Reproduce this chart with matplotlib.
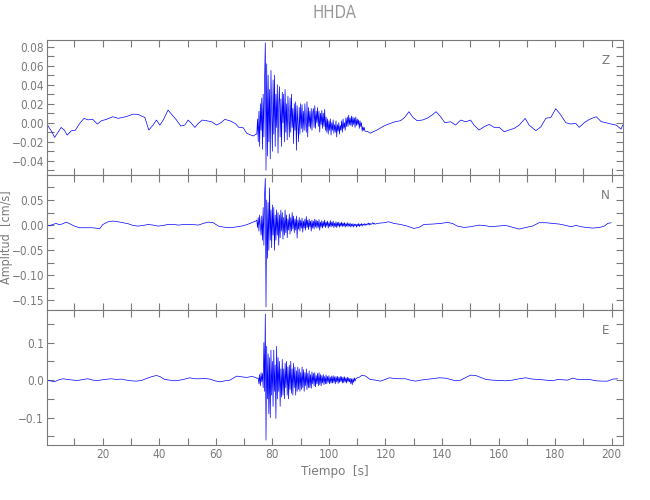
import numpy as np
import matplotlib
matplotlib.use("Agg")
import matplotlib.pyplot as plt
from matplotlib.ticker import MultipleLocator, FuncFormatter

plt.rcParams['font.family'] = ['DejaVu Sans']
plt.rcParams['font.stretch'] = 'condensed'

station = "HHDA"
channels = ["Z", "N", "E"]
dt_burst = 0.25

# Z component: quiet part before the arrival, burst (sampled every dt_burst), quiet part after
z_pre_t = [0, 0.8, 2.0, 3.0, 4.0, 5.3, 6.5, 7.4, 8.9, 10.3, 11.8, 13.4, 14.8, 16.5, 18.1, 19.5, 21.3,
           23.6, 25.4, 27.2, 28.9, 30.7, 32.5, 33.7, 34.9, 36.3, 37.8, 39.0, 40.2, 41.4, 43.1, 44.6,
           46.1, 47.6, 49.0, 50.2, 51.4, 52.6, 53.8, 55.2, 56.7, 58.5, 60.3, 61.8, 63.2, 65.0, 66.8,
           68.2, 69.7, 70.9, 72.1, 73.3, 74.1]
z_pre = [0.0, -0.004, -0.0095, -0.0154, -0.011, -0.005, -0.008, -0.013, -0.0085, -0.008, -0.001,
         0.0046, 0.003, 0.0035, -0.0014, 0.002, 0.0035, 0.0063, 0.0046, 0.0056, 0.007, 0.009, 0.0088,
         0.007, 0.0056, -0.0077, -0.0025, 0.0028, -0.0025, 0.0028, 0.0133, 0.008, 0.0028, -0.0035,
         -0.0025, 0.0028, -0.0007, -0.005, -0.0007, 0.0028, 0.0021, 0.001, -0.0025, 0.0, 0.0035,
         0.002, -0.0007, -0.005, -0.0053, -0.011, -0.0126, -0.014, -0.012]
z_burst_t0 = 74.5
z_burst = [-0.012, 0.004, -0.02, 0.012, -0.025, 0.02, -0.008, 0.026,
           -0.028, 0.03, -0.015, 0.045, 0.084, -0.05, 0.062, -0.035,
           0.05, -0.02, 0.035, -0.038, 0.055, 0.01, -0.03, 0.045,
           -0.012, 0.05, -0.025, 0.03, -0.005, 0.04, -0.032, 0.02,
           0.038, -0.015, 0.025, -0.025, 0.032, 0.0, 0.03, -0.02,
           0.035, -0.01, 0.02, -0.018, 0.028, 0.005, -0.015, 0.026,
           -0.01, 0.03, -0.005, 0.015, -0.022, 0.02, -0.008, 0.022,
           -0.029, 0.018, 0.0, -0.02, 0.016, -0.012, 0.02, -0.006,
           0.019, -0.01, 0.012, -0.008, 0.02, 0.0, -0.01, 0.022,
           -0.015, 0.016, -0.004, 0.012, -0.006, 0.015, -0.008, 0.01,
           0.015, -0.005, 0.018, -0.006, 0.012, 0.0, 0.016, -0.004,
           0.012, -0.01, 0.01, -0.002, 0.013, -0.006, 0.01, -0.004,
           0.014, -0.008, 0.006, -0.01, 0.004, -0.012, 0.002, -0.008,
           0.004, -0.013, 0.0, -0.008, 0.003, -0.011, -0.002, -0.01,
           0.002, -0.015, -0.002, -0.009, 0.0, -0.012, -0.003, -0.008,
           0.002, -0.01, 0.004, -0.006, 0.0, -0.008, 0.005, -0.004,
           0.006, -0.004, 0.008, -0.002, 0.005, -0.003, 0.007, -0.004,
           0.006, -0.002, 0.005, -0.005, 0.006, -0.003, 0.004, -0.002,
           0.003, -0.006, 0.002, -0.004, 0.0, -0.009, -0.004, -0.008,
           -0.005, -0.009]
z_post_t = [113.5, 114.6, 117.0, 119.4, 121.1, 123.5, 125.3, 126.8, 128.3, 129.7, 131.2, 133.0,
            134.7, 136.5, 137.9, 139.5, 141.0, 143.0, 144.8, 146.6, 148.4, 150.1, 151.3, 153.1,
            154.9, 156.7, 158.4, 160.2, 162.0, 163.7, 165.5, 167.3, 169.4, 170.8, 173.2, 175.0,
            176.7, 178.5, 180.2, 181.6, 183.8, 185.6, 187.3, 188.5, 190.3, 192.1, 194.5, 196.3,
            198.0, 199.8, 201.6, 203.3, 203.9]
z_post = [-0.009, -0.011, -0.0077, -0.0035, -0.0014, 0.0011, 0.0021, 0.0056, 0.0116, 0.0056,
          0.0021, 0.0028, 0.0046, 0.0081, 0.0116, 0.0063, 0.0, 0.001, -0.0025, 0.0028, 0.001,
          0.0028, -0.0025, -0.0077, -0.0042, -0.0018, -0.0049, -0.0049, -0.0095, -0.0077, -0.006,
          -0.0025, 0.0046, -0.0025, -0.0084, -0.0042, 0.0046, 0.0056, 0.0147, 0.0098, 0.0,
          -0.0014, -0.0007, -0.0049, 0.0, 0.0035, 0.0063, 0.0011, 0.0, -0.0014, -0.0025, -0.0067,
          -0.0025]

# N component
n_pre_t = [0, 1.2, 2.4, 3.5, 4.7, 5.9, 7.1, 8.3, 10.0, 11.8, 13.6, 16.0, 17.7, 18.9, 20.1, 21.9,
           23.6, 25.4, 27.2, 29.0, 30.7, 32.5, 34.3, 36.1, 37.8, 39.6, 41.4, 43.1, 44.9, 46.7, 49.0,
           51.4, 53.8, 55.6, 57.3, 59.1, 60.9, 62.7, 65.0, 66.8, 69.1, 70.9, 72.7, 74.1]
n_pre = [0.0, -0.0013, 0.0013, 0.0033, 0.0007, 0.0027, 0.006, 0.0027, -0.002, -0.0053, -0.0053,
         -0.0053, -0.006, -0.0073, 0.0013, 0.0066, 0.008, 0.0066, 0.0047, 0.0027, -0.0007, -0.002,
         -0.0007, 0.0013, 0.0, -0.002, -0.0007, 0.0013, 0.0013, 0.0, 0.0013, 0.0013, 0.0, 0.0033,
         0.006, 0.0047, -0.002, -0.004, -0.0053, -0.004, -0.002, 0.0007, 0.0047, 0.008]
n_burst_t0 = 74.5
n_burst = [0.01, -0.005, 0.015, -0.012, 0.02, 0.0, -0.02, 0.018,
           -0.03, 0.035, -0.04, 0.06, 0.093, -0.163, 0.05, -0.066,
           0.045, -0.05, 0.074, -0.03, 0.03, -0.045, 0.04, -0.02,
           0.035, -0.05, 0.02, -0.03, 0.03, -0.02, 0.025, -0.04,
           0.02, -0.025, 0.03, -0.012, 0.025, -0.028, 0.015, -0.02,
           0.03, -0.015, 0.02, -0.025, 0.012, -0.01, 0.022, -0.018,
           0.015, -0.012, 0.025, -0.008, 0.018, -0.015, 0.012, -0.01,
           0.018, -0.026, 0.01, -0.008, 0.015, -0.012, 0.01, -0.006,
           0.014, -0.014, 0.008, -0.006, 0.012, -0.01, 0.017, -0.005,
           0.01, -0.009, 0.012, -0.004, 0.008, -0.012, 0.01, -0.006,
           0.008, -0.008, 0.012, -0.004, 0.01, -0.006, 0.008, -0.005,
           0.011, -0.01, 0.006, -0.004, 0.009, -0.006, 0.007, -0.003,
           0.01, -0.005, 0.006, -0.002, 0.008, -0.006, 0.005, -0.003,
           0.009, -0.004, 0.006, -0.002, 0.008, -0.005, 0.004, -0.003,
           0.007, -0.005, 0.005, -0.002, 0.006, -0.004, 0.004, -0.002,
           0.006, -0.003, 0.004, -0.002, 0.005, -0.004, 0.003, -0.002,
           0.005, -0.003, 0.003, -0.002, 0.004, -0.004, 0.002, -0.002,
           0.003, -0.004, 0.002, -0.001, 0.002, -0.004, 0.002, -0.002,
           0.003, -0.003, 0.002, -0.001, 0.003, -0.002, 0.002, 0.0,
           0.003, -0.001, 0.002, 0.0, 0.003, 0.001, 0.004, 0.0,
           0.004, 0.001, 0.002, 0.003, 0.005, 0.002, 0.004, 0.002]
n_post_t = [116.5, 117.0, 119.4, 121.1, 123.0, 125.3, 127.7, 130.0, 131.8, 133.6, 136.5, 139.5,
            141.9, 143.7, 145.4, 147.8, 150.1, 153.1, 155.5, 157.2, 159.6, 162.5, 164.3, 167.3,
            169.6, 172.0, 174.3, 176.7, 179.1, 181.5, 183.8, 185.6, 187.4, 189.2, 190.9, 193.3,
            195.7, 197.4, 198.6, 199.8]
n_post = [0.002, 0.0033, 0.0047, 0.0066, 0.0033, 0.0013, -0.002, -0.0066, -0.0047, 0.0013, 0.002,
          0.0033, 0.0053, 0.0033, -0.002, -0.0047, -0.0033, 0.0, -0.0013, -0.0033, -0.002, -0.0007,
          -0.0033, -0.008, -0.0047, -0.002, 0.0047, 0.0047, 0.0033, 0.002, -0.0007, -0.0033,
          -0.0007, -0.0033, -0.0047, -0.006, -0.0047, -0.002, 0.0033, 0.0047]

# E component
e_pre_t = [0, 2.0, 3.0, 4.2, 5.9, 7.7, 9.5, 11.2, 13.0, 14.8, 16.5, 18.3, 20.7, 23.0, 24.8, 26.6,
           28.4, 30.1, 31.9, 33.7, 35.5, 37.2, 39.0, 40.4, 41.9, 43.7, 45.5, 47.3, 49.0, 50.8, 52.6,
           54.4, 56.1, 57.9, 59.7, 61.5, 63.3, 65.0, 66.2, 67.4, 69.1, 70.9, 72.7, 74.1, 74.6]
e_pre = [0.0, -0.0027, -0.0044, 0.0, 0.0036, 0.0018, 0.0, -0.0009, 0.0018, 0.0036, 0.0, -0.0009,
         0.0018, 0.0036, 0.0018, 0.0027, 0.0, -0.0018, -0.0027, -0.0009, 0.0044, 0.0089, 0.0124,
         0.0089, 0.0018, 0.0, -0.0018, 0.0, 0.0027, 0.0062, 0.0036, 0.0036, 0.0044, 0.0027, -0.0018,
         -0.0044, -0.0018, 0.0, 0.0053, 0.0107, 0.0089, 0.0071, 0.0098, 0.0071, 0.0044]
e_burst_t0 = 75.0
e_burst = [0.006, -0.01, 0.015, -0.015, 0.02, -0.005, 0.018, -0.02,
           0.1, -0.03, 0.176, -0.16, 0.09, -0.05, 0.07, -0.09,
           0.06, -0.1, 0.08, -0.04, 0.05, -0.07, 0.08, -0.03,
           0.04, -0.102, 0.09, -0.05, 0.06, -0.03, 0.05, -0.07,
           0.03, -0.045, 0.055, -0.04, 0.03, -0.05, 0.045, -0.02,
           0.05, -0.04, 0.035, -0.05, 0.04, -0.025, 0.05, -0.035,
           0.03, -0.04, 0.045, -0.02, 0.035, -0.04, 0.025, -0.03,
           0.035, -0.025, 0.03, -0.03, 0.02, -0.025, 0.035, -0.02,
           0.028, -0.03, 0.02, -0.015, 0.03, -0.025, 0.018, -0.02,
           0.025, -0.02, 0.015, -0.022, 0.022, -0.01, 0.018, -0.015,
           0.02, -0.018, 0.012, -0.01, 0.018, -0.015, 0.02, -0.012,
           0.015, -0.015, 0.012, -0.008, 0.015, -0.012, 0.01, -0.01,
           0.014, -0.01, 0.01, -0.006, 0.012, -0.01, 0.008, -0.008,
           0.011, -0.008, 0.012, -0.006, 0.009, -0.01, 0.01, -0.005,
           0.01, -0.009, 0.008, -0.006, 0.01, -0.004, 0.009, -0.008,
           0.008, -0.007, 0.009, -0.005, 0.006, -0.008, 0.008, -0.004,
           0.006, -0.005, 0.005, -0.01, 0.004, -0.012, 0.004, -0.006,
           0.006, -0.003, 0.004, 0.004, 0.006, 0.008]
e_post_t = [110.6, 111.7, 112.9, 114.6, 116.4, 118.2, 119.9, 121.3, 123.2, 125.3, 127.1, 128.8,
            130.6, 132.4, 134.2, 136.5, 138.9, 141.3, 143.0, 144.8, 146.6, 148.4, 150.1, 151.9,
            153.7, 155.5, 157.9, 160.2, 162.5, 164.9, 167.3, 169.6, 172.0, 174.3, 176.7, 179.1,
            180.9, 182.6, 184.4, 186.2, 188.0, 189.8, 192.1, 194.5, 196.9, 198.6, 200.4, 202.1]
e_post = [0.007, 0.013, 0.011, 0.0018, 0.0, -0.0027, 0.0018, 0.0062, 0.0044, 0.0036, 0.0036, 0.0,
          -0.0027, 0.0, 0.0018, 0.0036, 0.0062, 0.0053, 0.0018, -0.0018, 0.0, 0.0071, 0.0133,
          0.0124, 0.0071, 0.0018, 0.0, -0.0009, -0.0018, 0.0, 0.0036, 0.0062, 0.0027, 0.0018, 0.0,
          -0.0018, 0.0018, 0.0009, 0.0, 0.0053, 0.0018, 0.0018, 0.0018, -0.0018, -0.0027, -0.0027,
          0.0027, 0.0036]


def trace(pre_t, pre, t0, burst, post_t, post):
    bt = t0 + dt_burst * np.arange(len(burst))
    t = np.concatenate([pre_t, bt, post_t])
    y = np.concatenate([pre, burst, post])
    return t, y


traces = [trace(z_pre_t, z_pre, z_burst_t0, z_burst, z_post_t, z_post),
          trace(n_pre_t, n_pre, n_burst_t0, n_burst, n_post_t, n_post),
          trace(e_pre_t, e_pre, e_burst_t0, e_burst, e_post_t, e_post)]

ylims = [(-0.055, 0.087), (-0.169, 0.0997), (-0.173, 0.187)]
ymajor = [0.02, 0.05, 0.1]
yminor = [0.01, 0.025, 0.05]
ydec = [2, 2, 1]

gray = "#7a7a7a"
fig = plt.figure(figsize=(6.5, 5), dpi=100)
left, right, top, bottom = 47 / 650, 623 / 650, 1 - 40 / 500, 1 - 445 / 500
h = (top - bottom) / 3

for i, (t, y) in enumerate(traces):
    ax = fig.add_axes([left, top - (i + 1) * h, right - left, h])
    ax.plot(t, y, color="#0000ff", lw=0.5)
    ax.set_xlim(0.3, 204)
    ax.set_ylim(*ylims[i])
    ax.xaxis.set_major_locator(MultipleLocator(20))
    ax.xaxis.set_minor_locator(MultipleLocator(10))
    ax.yaxis.set_major_locator(MultipleLocator(ymajor[i]))
    ax.yaxis.set_minor_locator(MultipleLocator(yminor[i]))
    d = ydec[i]
    ax.yaxis.set_major_formatter(FuncFormatter(
        lambda v, p, d=d: ("%.*f" % (d, 0.0 if abs(v) < 1e-9 else v)).replace("-", "\u2212")))
    ax.tick_params(which="both", direction="in", top=True, right=True, length=5,
                   color=gray, labelcolor=gray, labelsize=8.5, width=0.8, pad=2)
    for s in ax.spines.values():
        s.set_color(gray)
        s.set_linewidth(0.8)
    if i < 2:
        ax.tick_params(labelbottom=False)
    ax.text(0.969, 0.85, channels[i], transform=ax.transAxes, color=gray,
            fontsize=9.5, ha="center", va="center")
    if i == 2:
        ax.set_xlabel("Tiempo  [s]", color=gray, fontsize=9.5, labelpad=3)

# y label sits in the narrow left margin, so place it by hand
fig.text(0.010, 0.525, "Amplitud  [cm/s]", color=gray, fontsize=9,
         rotation=90, ha="center", va="center")
fig.text(0.515, 0.974, station, color="#999999", fontsize=12, ha="center", va="center")

fig.savefig("out.png", dpi=100)
